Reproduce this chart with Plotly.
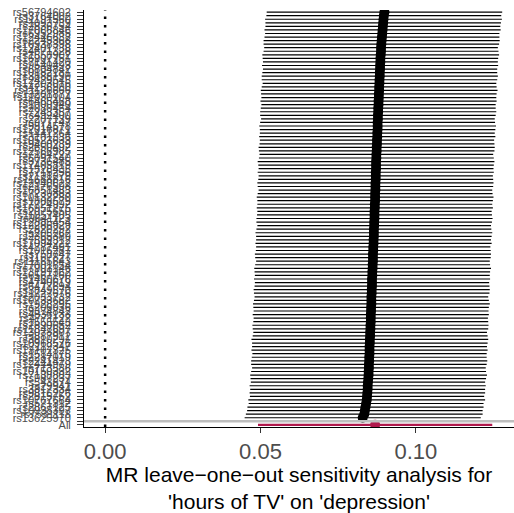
import plotly.graph_objects as go

# Leave-one-out estimates, listed from the lowest row up to the top row
snps = [
    "rs13625970", "rs7531118", "rs10938397", "rs2867125", "rs571312", "rs10767664", "rs2815752", "rs9816226",
    "rs3817334", "rs29941", "rs543874", "rs987237", "rs7138803", "rs10150332", "rs713586", "rs12444979",
    "rs2241423", "rs2287019", "rs1514175", "rs13107325", "rs2112347", "rs10968576", "rs3810291", "rs887912",
    "rs13078807", "rs11847697", "rs2890652", "rs1555543", "rs4771122", "rs4836133", "rs9374842", "rs206936",
    "rs1928295", "rs10733682", "rs2033732", "rs11727676", "rs3849570", "rs6477694", "rs4740619", "rs1460676",
    "rs6567160", "rs13191362", "rs7903146", "rs17001654", "rs11165643", "rs1167827", "rs758747", "rs1016287",
    "rs4787491", "rs17094222", "rs7599312", "rs2365389", "rs205262", "rs2820292", "rs12286929", "rs12885454",
    "rs9641123", "rs11057405", "rs2075650", "rs16951275", "rs17724992", "rs1808579", "rs10132280", "rs7239883",
    "rs16851483", "rs2176598", "rs12940622", "rs11688816", "rs2121279", "rs7715256", "rs1528435", "rs17405819",
    "rs3736485", "rs6091540", "rs7164727", "rs12566985", "rs2650492", "rs9400239", "rs10523633", "rs3101336",
    "rs1441264", "rs12016871", "rs9914578", "rs977747", "rs2207139", "rs492400", "rs7243357", "rs2080454",
    "rs1000940", "rs6465468", "rs11030104", "rs13201877", "rs11126666", "rs4256980", "rs17203016", "rs12429545",
    "rs3888190", "rs10182181", "rs6804842", "rs9540493", "rs7141420", "rs16907751", "rs1558902", "rs4671328",
    "rs12401738", "rs10938398", "rs2245368", "rs12446632", "rs6952985", "rs17066846", "rs2836754", "rs1093739",
    "rs11191560", "rs3764002", "rs56794602",
]

b = [
    0.0829, 0.0834, 0.0836, 0.0838, 0.0840, 0.0842, 0.0843, 0.0844,
    0.0845, 0.0845, 0.0846, 0.0847, 0.0848, 0.0848, 0.0849, 0.0849, 0.0850, 0.0850,
    0.0851, 0.0851, 0.0851, 0.0852, 0.0852, 0.0853, 0.0853, 0.0854, 0.0854, 0.0855,
    0.0855, 0.0855, 0.0856, 0.0856, 0.0857, 0.0857, 0.0857, 0.0858, 0.0858, 0.0859,
    0.0859, 0.0859, 0.0860, 0.0860, 0.0861, 0.0861, 0.0862, 0.0862, 0.0862, 0.0863,
    0.0863, 0.0864, 0.0864, 0.0865, 0.0865, 0.0865, 0.0866, 0.0866, 0.0867, 0.0867,
    0.0867, 0.0868, 0.0868, 0.0869, 0.0869, 0.0869, 0.0870, 0.0870, 0.0870, 0.0871,
    0.0871, 0.0871, 0.0872, 0.0872, 0.0872, 0.0873, 0.0873, 0.0874, 0.0874, 0.0875,
    0.0875, 0.0876, 0.0876, 0.0877, 0.0877, 0.0877, 0.0878, 0.0878, 0.0879, 0.0879,
    0.0880, 0.0880, 0.0881, 0.0881, 0.0882, 0.0882, 0.0883, 0.0883, 0.0884, 0.0884,
    0.0885, 0.0885, 0.0886, 0.0886, 0.0887, 0.0888, 0.0888, 0.0889, 0.0890, 0.0891,
    0.0892, 0.0893, 0.0894, 0.0895, 0.0896, 0.0897, 0.0899,
]

lo = [
    0.0449, 0.0453, 0.0457, 0.0458, 0.0462, 0.0461, 0.0466, 0.0465,
    0.0467, 0.0465, 0.0469, 0.0468, 0.0467, 0.0470, 0.0473, 0.0470, 0.0470, 0.0472,
    0.0474, 0.0471, 0.0473, 0.0473, 0.0471, 0.0475, 0.0477, 0.0475, 0.0474, 0.0477,
    0.0478, 0.0475, 0.0478, 0.0477, 0.0476, 0.0479, 0.0481, 0.0479, 0.0478, 0.0481,
    0.0482, 0.0479, 0.0482, 0.0481, 0.0480, 0.0483, 0.0486, 0.0483, 0.0482, 0.0485,
    0.0486, 0.0484, 0.0486, 0.0486, 0.0484, 0.0487, 0.0490, 0.0487, 0.0487, 0.0489,
    0.0490, 0.0488, 0.0490, 0.0490, 0.0488, 0.0491, 0.0494, 0.0491, 0.0490, 0.0493,
    0.0494, 0.0491, 0.0494, 0.0493, 0.0491, 0.0495, 0.0497, 0.0495, 0.0494, 0.0497,
    0.0498, 0.0496, 0.0498, 0.0498, 0.0496, 0.0499, 0.0502, 0.0499, 0.0499, 0.0501,
    0.0503, 0.0500, 0.0503, 0.0502, 0.0501, 0.0504, 0.0507, 0.0504, 0.0504, 0.0506,
    0.0508, 0.0505, 0.0508, 0.0507, 0.0506, 0.0510, 0.0512, 0.0510, 0.0510, 0.0513,
    0.0515, 0.0513, 0.0516, 0.0516, 0.0515, 0.0519, 0.0520,
]

up = [
    0.1209, 0.1215, 0.1215, 0.1218, 0.1218, 0.1223, 0.1220, 0.1223,
    0.1223, 0.1225, 0.1223, 0.1226, 0.1229, 0.1226, 0.1225, 0.1228, 0.1230, 0.1228,
    0.1228, 0.1231, 0.1229, 0.1231, 0.1233, 0.1231, 0.1229, 0.1233, 0.1234, 0.1233,
    0.1232, 0.1235, 0.1234, 0.1235, 0.1238, 0.1235, 0.1233, 0.1237, 0.1238, 0.1237,
    0.1236, 0.1239, 0.1238, 0.1239, 0.1242, 0.1239, 0.1238, 0.1241, 0.1242, 0.1241,
    0.1240, 0.1244, 0.1242, 0.1244, 0.1246, 0.1243, 0.1242, 0.1245, 0.1247, 0.1245,
    0.1244, 0.1248, 0.1246, 0.1248, 0.1250, 0.1247, 0.1246, 0.1249, 0.1250, 0.1249,
    0.1248, 0.1251, 0.1250, 0.1251, 0.1253, 0.1251, 0.1249, 0.1253, 0.1254, 0.1253,
    0.1252, 0.1256, 0.1254, 0.1256, 0.1258, 0.1255, 0.1254, 0.1257, 0.1259, 0.1257,
    0.1257, 0.1260, 0.1259, 0.1260, 0.1263, 0.1260, 0.1259, 0.1262, 0.1264, 0.1262,
    0.1262, 0.1265, 0.1264, 0.1265, 0.1268, 0.1266, 0.1264, 0.1268, 0.1270, 0.1269,
    0.1269, 0.1273, 0.1272, 0.1274, 0.1277, 0.1275, 0.1278,
]

# Estimate using all SNPs
all_b = 0.0869
all_lo = 0.0492
all_up = 0.1246

# Row layout: "All" at the bottom, one blank separator row, then the SNPs
row_labels = ["All", ""] + snps
row_pos = list(range(1, len(row_labels) + 1))
snp_pos = row_pos[2:]
all_pos = row_pos[0]
blank_pos = row_pos[1]

FONT = "Liberation Sans, Arial, Helvetica, sans-serif"
BLACK = "#000000"
RED = "#B0184C"

fig = go.Figure()

# Horizontal confidence-interval segments for each SNP
seg_x, seg_y = [], []
for l, u, y in zip(lo, up, snp_pos):
    seg_x += [l, u, None]
    seg_y += [y, y, None]
fig.add_trace(go.Scatter(x=seg_x, y=seg_y, mode="lines",
                         line=dict(color=BLACK, width=1.2), hoverinfo="skip"))

fig.add_trace(go.Scatter(x=b, y=snp_pos, mode="markers",
                         marker=dict(color=BLACK, size=10, line=dict(width=0))))

# Combined estimate
fig.add_trace(go.Scatter(x=[all_lo, all_up], y=[all_pos, all_pos], mode="lines",
                         line=dict(color=RED, width=2.4), hoverinfo="skip"))
fig.add_trace(go.Scatter(x=[all_b], y=[all_pos], mode="markers",
                         marker=dict(color=RED, size=10, line=dict(width=0))))

# Grey separator across the blank row
fig.add_trace(go.Scatter(x=[-1, 1], y=[blank_pos, blank_pos], mode="lines",
                         line=dict(color="#BEBEBE", width=2.6), hoverinfo="skip"))

# Null line
fig.add_shape(type="line", xref="x", yref="paper", x0=0, x1=0, y0=0, y1=1,
              line=dict(color=BLACK, width=2.5, dash="2.5px,6px"), layer="below")

fig.update_layout(
    width=514, height=513,
    margin=dict(l=84, r=0, t=10, b=86),
    paper_bgcolor="white", plot_bgcolor="white",
    showlegend=False,
    font=dict(family=FONT),
)

fig.update_xaxes(
    range=[-0.0068, 0.1316],
    tickvals=[0.0, 0.05, 0.10], ticktext=["0.00", "0.05", "0.10"],
    showgrid=False, zeroline=False, automargin=False,
    showline=True, linecolor=BLACK, linewidth=1,
    ticks="outside", ticklen=5, tickwidth=1.2, tickcolor="#333333",
    tickfont=dict(size=22, color="#4D4D4D", family=FONT),
    title=dict(text="MR leave\u2212one\u2212out sensitivity analysis for<br>'hours of TV' on 'depression'",
               font=dict(size=21, color=BLACK, family=FONT), standoff=6),
)

fig.update_yaxes(
    range=[all_pos - 0.6, row_pos[-1] + 0.6],
    tickmode="array", tickvals=row_pos, ticktext=row_labels,
    showgrid=False, zeroline=False, automargin=False,
    showline=True, linecolor=BLACK, linewidth=1,
    ticks="outside", ticklen=6, tickwidth=1, tickcolor="#333333",
    ticklabelstandoff=4,
    tickfont=dict(size=11, color="#4D4D4D", family=FONT),
)

fig.write_html("out.html")
